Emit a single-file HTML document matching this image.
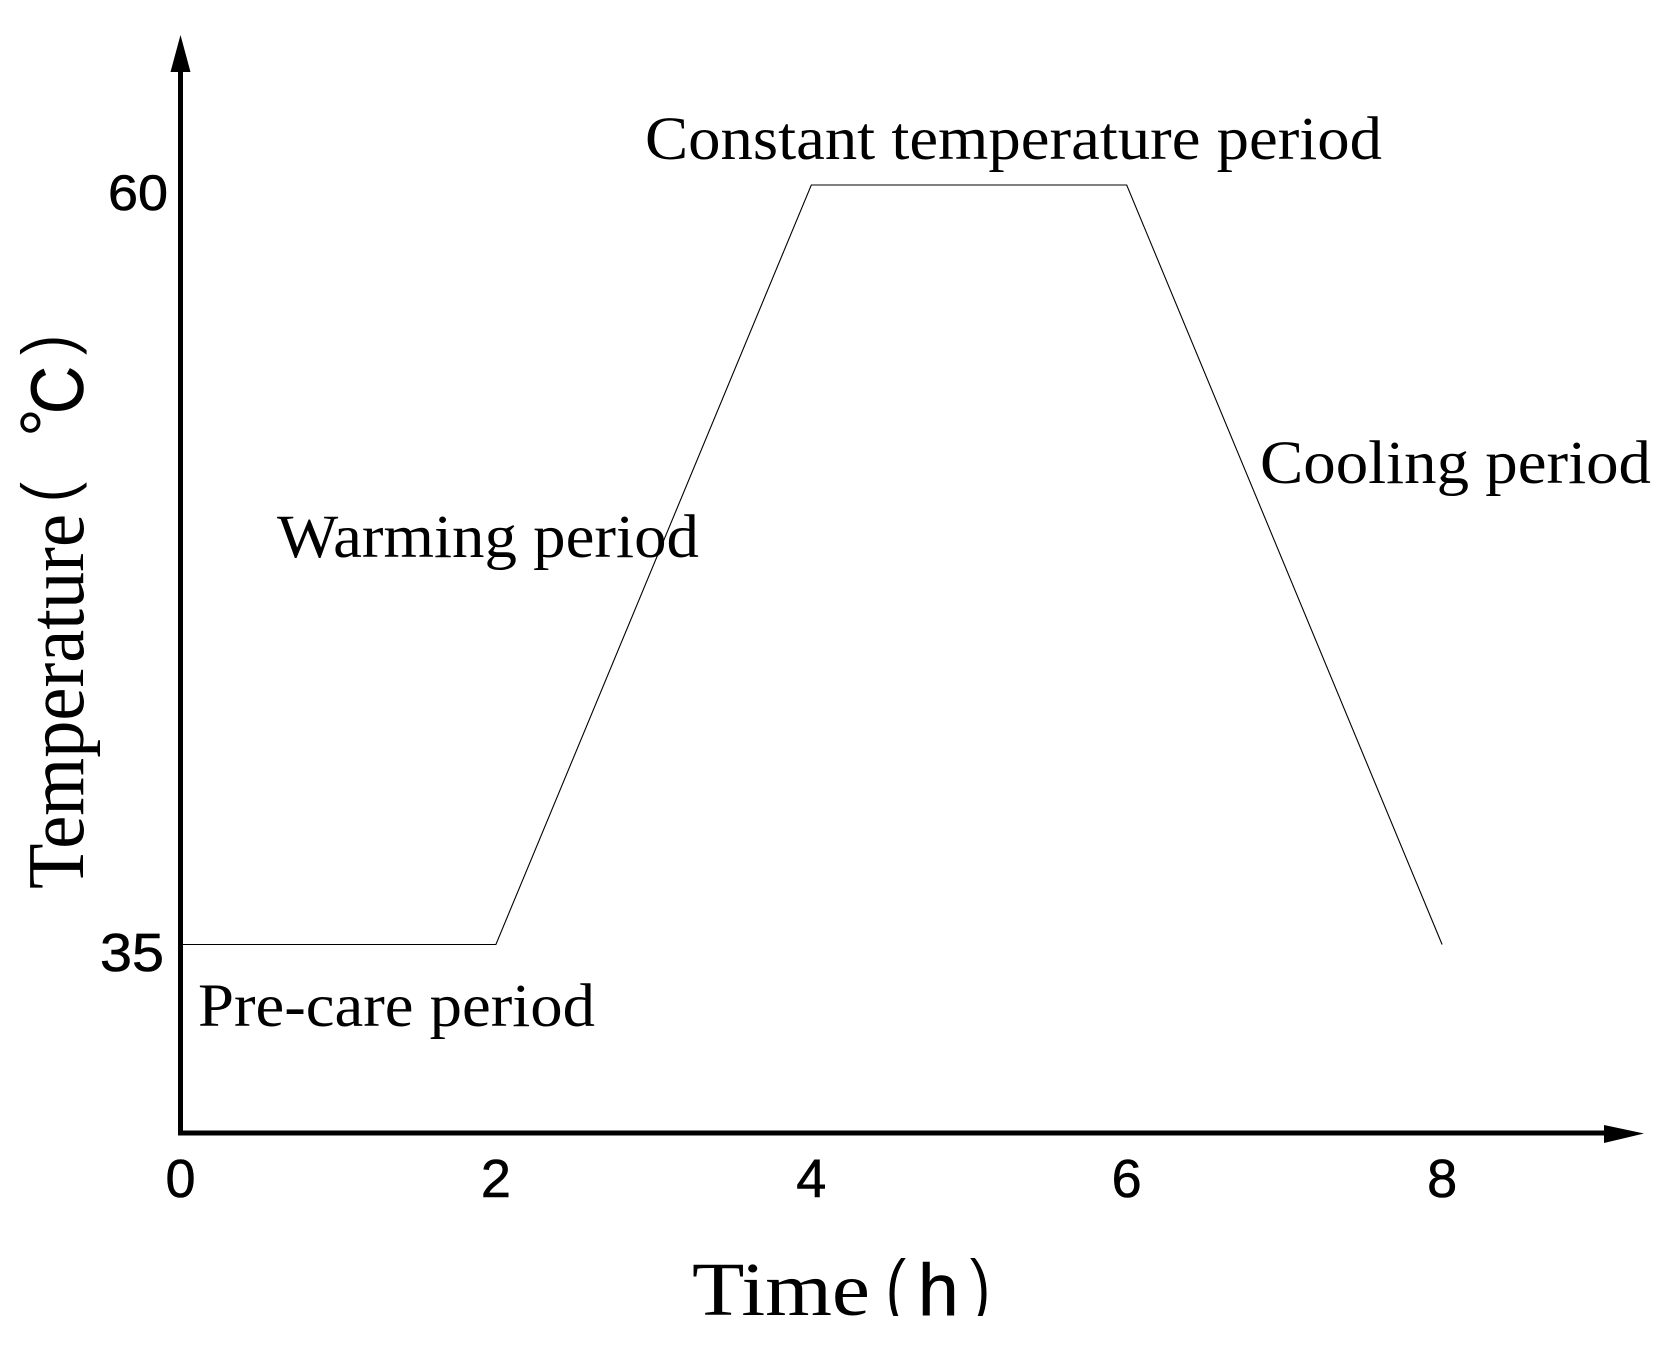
<!DOCTYPE html>
<html lang="en">
<head>
<meta charset="utf-8">
<title>Temperature vs Time Profile</title>
<style>
  html, body { margin: 0; padding: 0; background: #fff; }
  body { width: 1673px; height: 1351px; overflow: hidden; }
  svg { display: block; }
  .serif { font-family: "Liberation Serif", "Noto Serif CJK SC", serif; fill: #000; }
  .sans { font-family: "Liberation Sans", "Noto Sans CJK SC", sans-serif; fill: #000; }
  .thin { stroke: #fff; stroke-width: 0.9px; }
  .heavy { stroke: #000; stroke-width: 0.6px; }
</style>
</head>
<body>
<svg id="chart" xmlns="http://www.w3.org/2000/svg" width="1673" height="1351" viewBox="0 0 1673 1351">
  <defs>
    <clipPath id="x-title-clip"><rect x="600" y="1220" width="500" height="96"></rect></clipPath>
  </defs>
  <rect x="0" y="0" width="1673" height="1351" fill="#fff"></rect>

  <g id="series-layer"></g>

  <path d="M180.5 70V1135.5" stroke="#000" stroke-width="5" fill="none"></path>
  <path d="M180.5 35L190.5 72H170.5Z" fill="#000"></path>
  <path d="M178 1133H1606" stroke="#000" stroke-width="5" fill="none"></path>
  <path d="M1644 1133.5L1604 1125V1143Z" fill="#000"></path>

  <g id="tick-layer"></g>

  <text class="serif" x="645" y="159" font-size="61" textLength="737" lengthAdjust="spacingAndGlyphs">Constant temperature period</text>
  <text class="serif" x="277" y="557" font-size="61" textLength="422" lengthAdjust="spacingAndGlyphs">Warming period</text>
  <text class="serif" x="1260" y="483" font-size="61" textLength="391" lengthAdjust="spacingAndGlyphs">Cooling period</text>
  <text class="serif" x="198" y="1026" font-size="61" textLength="397" lengthAdjust="spacingAndGlyphs">Pre-care period</text>

  <g clip-path="url(#x-title-clip)">
    <text class="serif" x="692" y="1315" font-size="76" textLength="178" lengthAdjust="spacingAndGlyphs">Time</text>
    <text class="sans thin" x="885" y="1314" font-size="78" textLength="22" lengthAdjust="spacingAndGlyphs">(</text>
    <text class="sans heavy" x="918" y="1315" font-size="73">h</text>
    <text class="sans thin" x="969" y="1314" font-size="78" textLength="22" lengthAdjust="spacingAndGlyphs">)</text>
  </g>

  <g>
    <text class="serif" transform="translate(83 889) rotate(-90)" font-size="80" textLength="375" lengthAdjust="spacingAndGlyphs">Temperature</text>
    <text class="sans thin" transform="translate(72 503) rotate(-90)" font-size="72" textLength="22" lengthAdjust="spacingAndGlyphs">(</text>
    <text class="sans" transform="translate(71 437) rotate(-90)" font-size="72">°</text>
    <text class="sans heavy" transform="translate(83 414) rotate(-90)" font-size="74" textLength="48" lengthAdjust="spacingAndGlyphs">C</text>
    <text class="sans thin" transform="translate(72 356) rotate(-90)" font-size="72" textLength="22" lengthAdjust="spacingAndGlyphs">)</text>
  </g>
</svg>

<script>
const times = [0, 2, 4, 6, 8];
const temperatures = [35, 35, 60, 60, 35];
const xTickLabels = ["0", "2", "4", "6", "8"];
const yTickLabels = ["35", "60"];

const SVG_NS = "http://www.w3.org/2000/svg";

function xScale(t) {
  return 180.5 + t * 157.7;
}
function yScale(v) {
  return 944.5 - (v - 35) * 30.38;
}

const seriesLayer = document.getElementById("series-layer");
const tickLayer = document.getElementById("tick-layer");

const line = document.createElementNS(SVG_NS, "polyline");


line.setAttribute("points", times.map(function (t, i) {
  return xScale(t) + "," + yScale(temperatures[i]);
}).join(" "));
line.setAttribute("fill", "none");
line.setAttribute("stroke", "#000");
line.setAttribute("stroke-width", "1.1");
seriesLayer.appendChild(line);

xTickLabels.forEach(function (label) {
  const el = document.createElementNS(SVG_NS, "text");
  
  
  el.setAttribute("class", "sans heavy");
  el.setAttribute("x", xScale(Number(label)));
  el.setAttribute("y", 1197);
  el.setAttribute("font-size", "54");
  el.setAttribute("text-anchor", "middle");
  el.textContent = label;
  tickLayer.appendChild(el);
});

yTickLabels.forEach(function (label) {
  const isUpper = Number(label) >= 60;
  const el = document.createElementNS(SVG_NS, "text");
  
  
  el.setAttribute("class", "sans heavy");
  el.setAttribute("x", isUpper ? 108 : 100);
  el.setAttribute("y", yScale(Number(label)) + (isUpper ? 25 : 26.5));
  el.setAttribute("font-size", isUpper ? "50" : "54");
  el.setAttribute("textLength", isUpper ? "60" : "64");
  el.setAttribute("lengthAdjust", "spacingAndGlyphs");
  el.textContent = label;
  tickLayer.appendChild(el);
});
</script>
</body>
</html>
